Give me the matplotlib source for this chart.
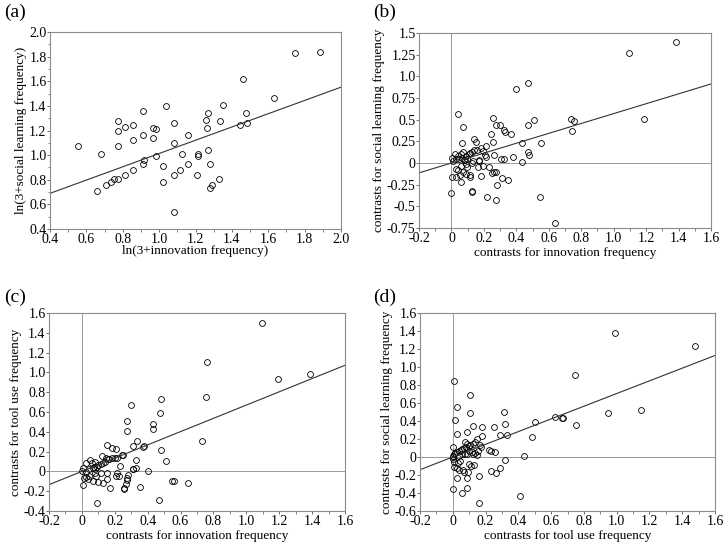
import numpy as np
import matplotlib
matplotlib.use('Agg')
import matplotlib.pyplot as plt
from matplotlib.ticker import MultipleLocator

plt.rcParams['font.family'] = ['Liberation Serif', 'DejaVu Serif']
plt.rcParams['axes.unicode_minus'] = False

# (a) ln(3+innovation) vs ln(3+social learning)
a_x = [0.554, 0.683, 0.659, 0.710, 0.738, 0.750, 0.774, 0.772, 0.772, 0.772,
       0.813, 0.813, 0.857, 0.857, 0.857, 0.910, 0.910, 0.910, 0.917, 0.965,
       0.983, 0.965, 0.983, 1.024, 1.024, 1.040, 1.081, 1.081, 1.081, 1.084,
       1.114, 1.127, 1.158, 1.158, 1.215, 1.215, 1.209, 1.255, 1.270, 1.264,
       1.270, 1.277, 1.277, 1.292, 1.330, 1.334, 1.352, 1.444, 1.462, 1.479,
       1.484, 1.631, 1.745, 1.883]
a_y = [1.077, 1.009, 0.706, 0.755, 0.782, 0.809, 0.806, 1.071, 1.196, 1.280,
       1.226, 0.841, 1.247, 1.126, 0.879, 1.356, 1.164, 0.928, 0.958, 1.218,
       1.215, 1.136, 0.990, 0.912, 0.782, 1.399, 1.261, 1.096, 0.839, 0.535,
       0.879, 1.012, 1.164, 0.928, 1.009, 0.993, 0.839, 1.283, 1.339, 1.218,
       1.039, 0.928, 0.730, 0.755, 0.806, 1.280, 1.404, 1.245, 1.618, 1.339,
       1.261, 1.464, 1.827, 1.840]
a_slope, a_icept = 0.539, 0.474

# (b) contrasts: innovation vs social learning
b_x = [0.399, 0.043, 0.072, 0.255, 0.273, 0.298, 0.245, 0.327, 0.333, 0.370,
       0.473, 0.506, 0.736, 0.065, 0.140, 0.152, 0.255, 0.432, 0.555, 0.469,
       0.481, 0.432, 0.379, 0.327, 0.306, 0.263, 0.205, 0.211, 0.210, 0.181,
       0.156, 0.125, 0.115, 0.106, 0.142, 0.193, 0.090, 0.098, 0.078, 0.064,
       0.047, 0.026, 0.022, 0.043, 0.002, 0.008, 0.059, 0.070, 0.084, 0.131,
       0.168, 0.162, 0.197, 0.230, 0.172, 0.129, 0.090, 0.094, 0.057, 0.028,
       0.043, 0.072, 0.090, 0.113, 0.117, 0.055, 0.026, 0.002, 0.185, 0.263,
       0.273, 0.253, 0.310, 0.349, 0.278, 0.057, 0.127, 0.127, 0.000, 0.220,
       0.272, 0.543, 0.639, 0.473, 0.757, 0.746, 1.092, 1.382, 1.184]
b_y = [0.853, 0.568, 0.421, 0.514, 0.444, 0.444, 0.332, 0.378, 0.359, 0.340,
       0.444, 0.498, 0.506, 0.236, 0.282, 0.243, 0.243, 0.232, 0.236, 0.131,
       0.093, 0.012, 0.066, 0.050, 0.042, 0.093, 0.093, 0.069, 0.201, 0.174,
       0.147, 0.127, 0.116, 0.100, 0.154, 0.143, 0.085, 0.042, 0.035, 0.058,
       0.042, 0.042, 0.104, 0.085, 0.062, 0.027, 0.108, 0.124, 0.035, 0.027,
       0.035, -0.050, -0.039, -0.042, 0.023, -0.004, -0.008, -0.050, -0.035, -0.066,
       -0.077, -0.104, -0.124, -0.135, -0.166, -0.135, -0.162, -0.162, -0.147, -0.104,
       -0.104, -0.120, -0.170, -0.193, -0.259, -0.224, -0.328, -0.340, -0.344, -0.394,
       -0.425, -0.394, -0.695, 0.927, 0.490, 0.371, 1.274, 1.398, 0.502]
b_slope = 0.57

# (c) contrasts: innovation vs tool use
c_x = [0.480, 0.474, 0.300, 0.276, 0.274, 0.432, 0.432, 0.334, 0.310, 0.373,
       0.379, 0.484, 0.511, 0.328, 0.308, 0.328, 0.401, 0.249, 0.243, 0.154,
       0.186, 0.205, 0.182, 0.166, 0.203, 0.213, 0.122, 0.146, 0.156, 0.138,
       0.130, 0.118, 0.101, 0.093, 0.079, 0.061, 0.047, 0.024, 0.065, 0.081,
       0.071, 0.045, 0.006, 0.002, 0.024, 0.116, 0.152, 0.213, 0.229, 0.227,
       0.209, 0.280, 0.274, 0.272, 0.268, 0.259, 0.255, 0.310, 0.152, 0.130,
       0.097, 0.069, 0.039, 0.028, 0.012, 0.045, 0.087, 0.079, 0.170, 0.004,
       0.353, 0.551, 0.561, 0.645, 0.470, 0.089, 0.732, 1.095, 1.190, 1.387,
       0.760, 0.752]
c_y = [0.732, 0.594, 0.668, 0.509, 0.405, 0.476, 0.432, 0.310, 0.253, 0.250,
       0.253, 0.212, 0.101, 0.111, 0.024, 0.034, 0.003, 0.169, 0.169, 0.263,
       0.233, 0.223, 0.132, 0.125, 0.135, 0.135, 0.155, 0.132, 0.121, 0.094,
       0.084, 0.074, 0.061, 0.047, 0.098, 0.088, 0.115, 0.088, 0.030, 0.020,
       0.047, 0.020, 0.030, 0.003, -0.007, -0.013, -0.017, -0.013, 0.054, -0.044,
       -0.044, -0.034, -0.067, -0.088, -0.132, -0.169, -0.175, 0.020, -0.078, -0.115,
       -0.105, -0.101, -0.074, -0.054, -0.064, -0.047, -0.047, -0.020, -0.169, -0.142,
       -0.155, -0.101, -0.101, -0.115, -0.293, -0.324, 0.307, 1.497, 0.934, 0.981,
       1.106, 0.749]
c_slope = 0.67

# (d) contrasts: tool use vs social learning
d_x = [0.006, 0.106, 0.026, 0.106, 0.012, 0.315, 0.317, 0.252, 0.177, 0.122,
       0.502, 0.622, 0.665, 0.484, 0.329, 0.289, 0.026, 0.085, 0.179, 0.148,
       0.138, 0.122, 0.106, 0.096, 0.081, 0.069, 0.057, 0.049, 0.037, 0.024,
       0.014, 0.006, 0.004, 0.000, 0.075, 0.089, 0.002, 0.167, 0.153, 0.138,
       0.171, 0.218, 0.234, 0.256, 0.120, 0.100, 0.073, 0.089, 0.124, 0.055,
       0.039, 0.146, 0.437, 0.319, 0.004, 0.010, 0.030, 0.047, 0.096, 0.112,
       0.128, 0.008, 0.024, 0.041, 0.061, 0.069, 0.092, 0.089, 0.028, 0.157,
       0.236, 0.264, 0.287, 0.085, 0.000, 0.055, 0.159, 0.413, 0.744, 0.990,
       1.476, 1.149, 0.946, 0.752, 0.671]
d_y = [0.846, 0.690, 0.553, 0.486, 0.408, 0.501, 0.371, 0.330, 0.330, 0.349,
       0.393, 0.449, 0.430, 0.219, 0.241, 0.241, 0.256, 0.275, 0.230, 0.200,
       0.171, 0.148, 0.134, 0.119, 0.108, 0.096, 0.089, 0.078, 0.067, 0.052,
       0.041, 0.030, 0.015, 0.000, 0.163, 0.145, 0.111, 0.134, 0.071, 0.048,
       0.108, 0.074, 0.067, 0.059, 0.059, 0.067, 0.037, 0.030, 0.030, 0.033,
       0.015, 0.022, 0.007, -0.030, -0.026, -0.052, -0.067, -0.041, -0.082, -0.096,
       -0.089, -0.108, -0.126, -0.141, -0.148, -0.163, -0.171, -0.237, -0.234, -0.208,
       -0.156, -0.174, -0.126, -0.341, -0.353, -0.404, -0.512, -0.430, 0.913, 1.380,
       1.232, 0.523, 0.494, 0.356, 0.434]
d_slope = 0.705

W, H = 724, 547
fig = plt.figure(figsize=(W / 100, H / 100), dpi=100)


def box(l, r, t, b):
    return [l / W, 1 - b / H, (r - l) / W, (b - t) / H]


def style(ax, xlim, ylim, xticks, xlabels, yticks, ylabels, xlabel, ylabel, xpad):
    ax.set_xlim(*xlim)
    ax.set_ylim(*ylim)
    ax.set_xticks(xticks)
    ax.set_xticklabels(xlabels)
    ax.set_yticks(yticks)
    ax.set_yticklabels(ylabels)
    ax.xaxis.set_minor_locator(MultipleLocator(0.1))
    for s in ax.spines.values():
        s.set_color('#8c8c8c')
        s.set_linewidth(0.8)
    ax.tick_params(which='major', direction='out', length=2.5, width=0.6,
                   color='#555555', labelsize=10, pad=0)
    ax.tick_params(axis='x', which='major', pad=0.5)
    ax.tick_params(which='minor', direction='out', length=1.8, width=0.5, color='#555555')
    ax.set_xlabel(xlabel, fontsize=9.5, labelpad=xpad)
    ax.set_ylabel(ylabel, fontsize=9.5, labelpad=1.5)


def fmt(vals):
    out = []
    for v in vals:
        if abs(v) < 1e-9:
            out.append('0')
        else:
            out.append(f'{v:.1f}')
    return out


def scatter_fit(ax, x, y, slope, icept, xlim):
    ax.plot(x, y, 'o', ms=4.2, mfc='none', mec='black', mew=0.6, clip_on=False)
    xs = np.array(xlim)
    ax.plot(xs, slope * xs + icept, color='#333333', lw=0.8)


mark = dict(color='#999999', lw=0.7, zorder=0)

# (a)
ax = fig.add_axes(box(50, 341, 32, 229))
t = np.round(np.arange(0.4, 2.01, 0.2), 1)
style(ax, (0.4, 2.0), (0.4, 2.0), t, fmt(t), t, fmt(t),
      'ln(3+innovation frequency)', 'ln(3+social learning frequency)', -1)
scatter_fit(ax, a_x, a_y, a_slope, a_icept, (0.4, 2.0))
ax.yaxis.set_minor_locator(MultipleLocator(0.1))

# (b)
ax = fig.add_axes(box(419, 711, 33, 228))
xt = np.round(np.arange(-0.2, 1.61, 0.2), 1)
yt = np.round(np.arange(-0.75, 1.51, 0.25), 2)
ylab = ['-0.75', '-0.5', '-0.25', '0', '0.25', '0.5', '0.75', '1.0', '1.25', '1.5']
style(ax, (-0.2, 1.6), (-0.75, 1.5), xt, fmt(xt), yt, ylab,
      'contrasts for innovation frequency', 'contrasts for social learning frequency', 1)
ax.axhline(0, **mark)
ax.axvline(0, **mark)
scatter_fit(ax, b_x, b_y, b_slope, 0.0, (-0.2, 1.6))

# (c)
ax = fig.add_axes(box(49, 345, 313, 511))
yt = np.round(np.arange(-0.4, 1.61, 0.2), 1)
style(ax, (-0.2, 1.6), (-0.4, 1.6), xt, fmt(xt), yt, fmt(yt),
      'contrasts for innovation frequency', 'contrasts for tool use frequency', 1.5)
ax.axhline(0, **mark)
ax.axvline(0, **mark)
scatter_fit(ax, c_x, c_y, c_slope, 0.0, (-0.2, 1.6))

# (d)
ax = fig.add_axes(box(420, 715, 313, 511))
yt = np.round(np.arange(-0.6, 1.61, 0.2), 1)
style(ax, (-0.2, 1.6), (-0.6, 1.6), xt, fmt(xt), yt, fmt(yt),
      'contrasts for tool use frequency', 'contrasts for social learning frequency', 1.5)
ax.axhline(0, **mark)
ax.axvline(0, **mark)
scatter_fit(ax, d_x, d_y, d_slope, 0.0, (-0.2, 1.6))

for lab, px, py in [('(a)', 4, 12), ('(b)', 373, 12), ('(c)', 4, 297), ('(d)', 373, 297)]:
    fig.text(px / W, 1 - py / H, lab, fontsize=14, va='center', ha='left')

fig.savefig('out.png', dpi=100)
